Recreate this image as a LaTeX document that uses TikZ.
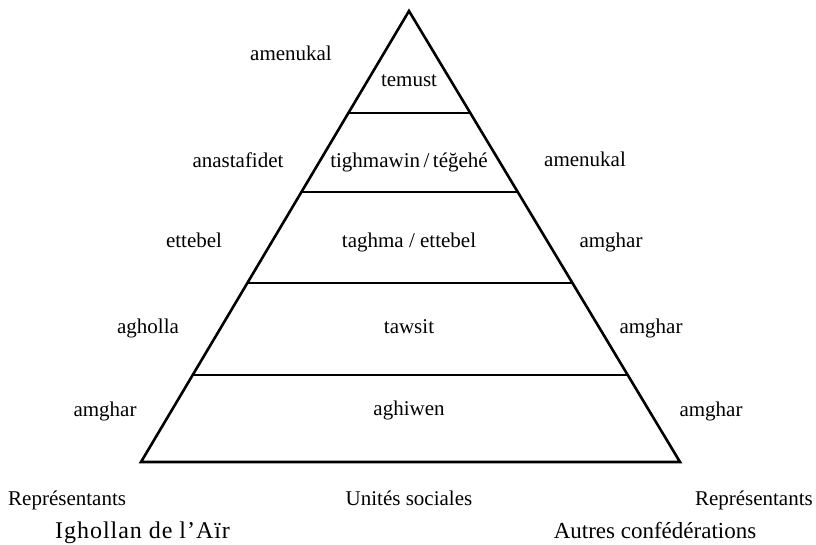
\documentclass[tikz,border=0pt]{standalone}
\usepackage{fontspec}
\setmainfont{Liberation Serif}
\usepackage{tikz}
\usetikzlibrary{calc, positioning}

\tikzset{
  lab/.style={font=\fontsize{21}{25}\selectfont, inner sep=0pt, text height=14pt, text depth=4pt},
  big/.style={font=\fontsize{23}{27}\selectfont, inner sep=0pt, text height=16pt, text depth=5pt},
  edge/.style={line width=2.6pt, line join=miter}
}

\begin{document}
\begin{tikzpicture}[x=1pt, y=-1pt]
\useasboundingbox (0,0) rectangle (816,545);

\coordinate (top) at (409,11);
\coordinate (bl) at (141,462);
\coordinate (br) at (680,462);

\draw [edge] (top) -- (bl) -- (br) -- cycle;

\foreach \t in {0.2262, 0.4013, 0.6031, 0.8071}
\draw [line width=2.4pt] ($(top)!\t!(bl)$) -- ($(top)!\t!(br)$);

% unites sociales
\node [lab] (temust) at (409,82) {temust};
\node [lab] (tighmawin) at (409,163) {tighmawin\,/\,téğehé};
\node [lab] (taghma) at (409,243) {taghma / ettebel};
\node [lab] (tawsit) at (409,328) {tawsit};
\node [lab] (aghiwen) at (409,410) {aghiwen};

% Ighollan
\node [lab] (l1) at (291,56) {amenukal};
\node [lab] (l2) at (238,163) {anastafidet};
\node [lab] (l3) at (194,243) {ettebel};
\node [lab] (l4) at (148,328) {agholla};
\node [lab] (l5) at (105,411) {amghar};

% autres
\node [lab] (r2) at (585,162) {amenukal};
\node [lab] (r3) at (611,243) {amghar};
\node [lab] (r4) at (651,328) {amghar};
\node [lab] (r5) at (711,411) {amghar};

\node [lab, anchor=west] (repl) at (8,500) {Représentants};
\node [lab] (unites) at (409,500) {Unités sociales};
\node [lab, anchor=east] (repr) at (813,500) {Représentants};

\node [big, anchor=west] (ighollan) at (55,533) {\fontsize{24}{28}\selectfont\addfontfeature{LetterSpace=4}Ighollan de l’Aïr};
\node [big] (autres) at (655,533) {Autres confédérations};
\end{tikzpicture}
\end{document}
